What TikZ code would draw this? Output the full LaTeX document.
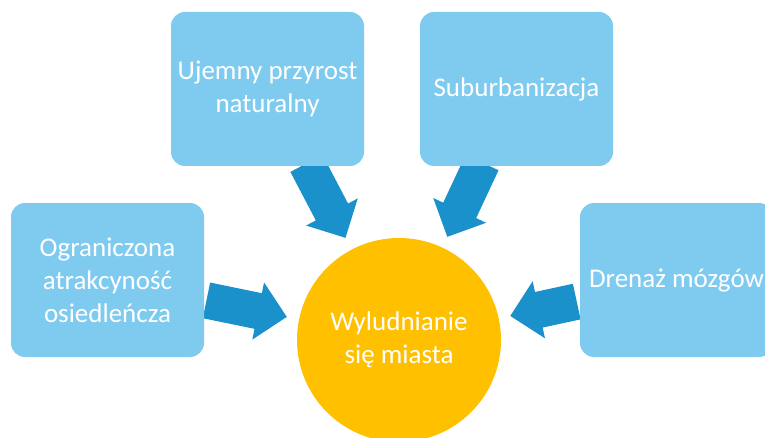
\documentclass[tikz,border=0pt]{standalone}
\usepackage{fontspec}
\setmainfont{Carlito}
\usetikzlibrary{shapes.arrows,backgrounds}
\definecolor{boxblue}{HTML}{7FCBF0}
\definecolor{arrowblue}{HTML}{1A91CB}
\definecolor{sunorange}{HTML}{FFC000}
\tikzstyle{cause}=[fill=boxblue,rounded corners=14pt,minimum width=193pt,minimum height=154pt,inner sep=0pt,text=white,align=center,font=\fontsize{27}{33}\selectfont]
\tikzstyle{effect}=[fill=sunorange,circle,minimum size=204pt,inner sep=0pt,text=white,align=center,font=\fontsize{27}{33}\selectfont]
\tikzstyle{push}=[fill=arrowblue,single arrow,single arrow head extend=11pt,minimum width=58pt,inner xsep=0pt,inner ysep=18pt,sloped,allow upside down,anchor=tip]

\begin{document}
\begin{tikzpicture}[x=1pt,y=1pt]
\useasboundingbox (0,0) rectangle (765,437);
\node [effect] (city) at (399,97) {Wyludnianie\\się miasta};
\node [cause] (birth) at (267.5,348) {Ujemny przyrost\\naturalny};
\node [cause] (suburb) at (516.5,348) {Suburbanizacja};
\node [cause] (appeal) at (107.5,157) {Ograniczona\\atrakcyność\\osiedleńcza};
\node [cause] (brain) at (676.5,157) {Drenaż mózgów};
\begin{pgfonlayer}{background}
\path (birth.center) -- (city.center) node [push,minimum height=84pt,pos=0.594] (a1) {};
\path (suburb.center) -- (city.center) node [push,minimum height=82pt,pos=0.590] (a2) {};
\path (appeal.center) -- (city.center) node [push,minimum height=82pt,pos=0.616] (a3) {};
\path (brain.center) -- (city.center) node [push,minimum height=68pt,pos=0.600] (a4) {};
\end{pgfonlayer}
\end{tikzpicture}
\end{document}
